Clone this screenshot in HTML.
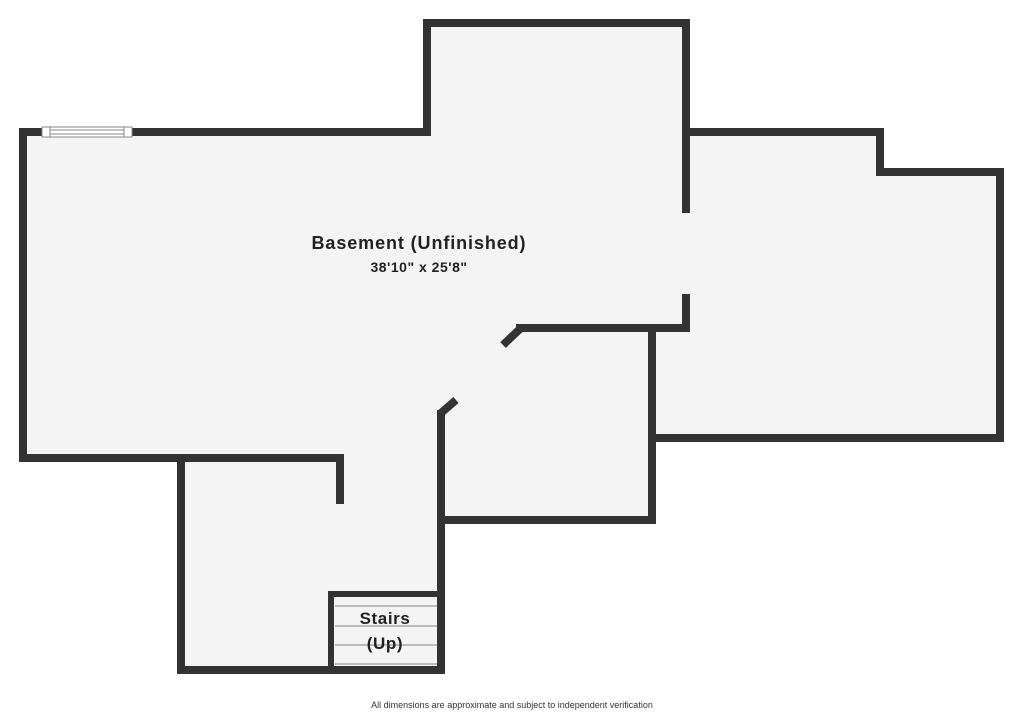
<!DOCTYPE html>
<html><head><style>body{margin:0;background:#fff}svg{display:block}</style></head><body>
<svg width="1024" height="714" viewBox="0 0 1024 714" xmlns="http://www.w3.org/2000/svg">
<polygon points="23,132 427,132 427,23 686,23 686,132 880,132 880,172 1000,172 1000,438 652,438 652,520 441,520 441,670 181,670 181,458 23,458" fill="#f4f4f4"/>
<g fill="none" stroke="#333" stroke-width="8" stroke-linecap="square">
<polyline points="23,132 427,132 427,23 686,23 686,209"/>
<polyline points="686,132 880,132 880,172 1000,172 1000,438 652,438"/>
<polyline points="652,328 652,520 441,520 441,670 181,670 181,458 23,458 23,132"/>
<polyline points="340,500 340,458 181,458"/>
<polyline points="686,298 686,328 520,328"/>
<polyline points="441,520 441,414"/>
<polyline points="331,670 331,594 437,594" stroke-width="6"/>
</g>
<g stroke="#333" stroke-width="8"><line x1="521" y1="328" x2="503" y2="345"/><line x1="441" y1="413" x2="456" y2="400"/></g>
<rect x="42" y="127" width="90" height="10" fill="#fff" stroke="#888" stroke-width="1"/>
<line x1="50" y1="130" x2="124" y2="130" stroke="#888"/><line x1="50" y1="134" x2="124" y2="134" stroke="#888"/>
<line x1="50" y1="127" x2="50" y2="137" stroke="#888"/><line x1="124" y1="127" x2="124" y2="137" stroke="#888"/>
<g stroke="#bbb" stroke-width="2"><line x1="335" y1="606" x2="437" y2="606"/><line x1="335" y1="626" x2="437" y2="626"/><line x1="335" y1="645" x2="437" y2="645"/><line x1="335" y1="664" x2="437" y2="664"/></g>
<g font-family="Liberation Sans, sans-serif" font-weight="bold" fill="#222" text-anchor="middle">
<text x="419" y="249" font-size="18" letter-spacing="0.9">Basement (Unfinished)</text>
<text x="419" y="272" font-size="14" letter-spacing="0.5">38'10" x 25'8"</text>
<text x="385" y="624" font-size="17" letter-spacing="0.6">Stairs</text>
<text x="385" y="649" font-size="17" letter-spacing="0.6">(Up)</text>
</g>
<text x="512" y="708" font-family="Liberation Sans, sans-serif" font-size="9" fill="#333" text-anchor="middle">All dimensions are approximate and subject to independent verification</text>
</svg>
</body></html>
